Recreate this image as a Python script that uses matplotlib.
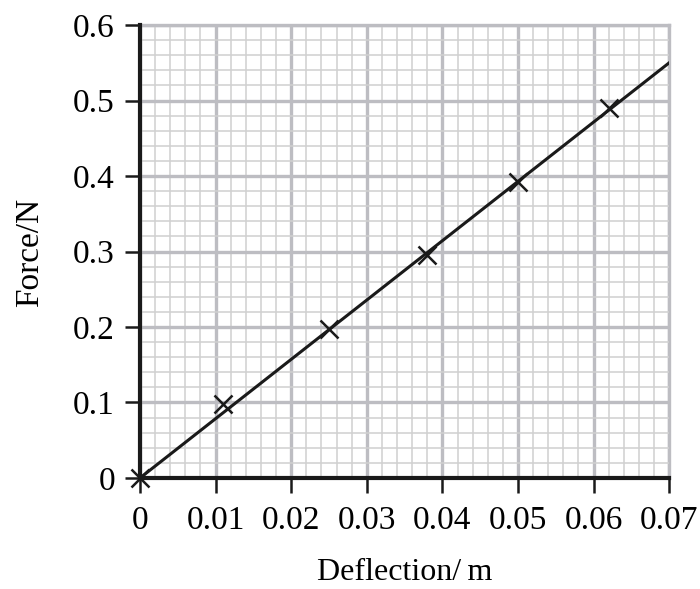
import matplotlib
matplotlib.use('Agg')
import matplotlib.pyplot as plt
import numpy as np
from matplotlib.ticker import MultipleLocator

# measured points
deflection = [0.0, 0.011, 0.025, 0.038, 0.050, 0.062]
force = [0.0, 0.098, 0.198, 0.295, 0.392, 0.490]
# best-fit line end points
line_x = [0.0, 0.07]
line_y = [0.0, 0.55]

x_ticks = [0, 0.01, 0.02, 0.03, 0.04, 0.05, 0.06, 0.07]
x_labels = ['0', '0.01', '0.02', '0.03', '0.04', '0.05', '0.06', '0.07']
y_ticks = [0, 0.1, 0.2, 0.3, 0.4, 0.5, 0.6]
y_labels = ['0', '0.1', '0.2', '0.3', '0.4', '0.5', '0.6']

plt.rcParams['font.family'] = ['Liberation Serif', 'DejaVu Serif']

fig = plt.figure(figsize=(7, 5.89), dpi=100)
ax = fig.add_axes([0.2, 0.1885, 0.756, 0.769])

ax.set_xlim(0, 0.07)
ax.set_ylim(0, 0.6)

# graph paper grid
ax.xaxis.set_minor_locator(MultipleLocator(0.002))
ax.yaxis.set_minor_locator(MultipleLocator(0.02))
ax.grid(which='minor', color='#d0d0d0', linewidth=1.1, zorder=0)
ax.grid(which='major', color='#bdbdc2', linewidth=2.4, zorder=0)
ax.set_axisbelow(True)

ax.spines['top'].set_visible(False)
ax.spines['right'].set_visible(False)
ax.spines['left'].set_linewidth(3)
ax.spines['bottom'].set_linewidth(3)
ax.spines['left'].set_color('#1a1a1a')
ax.spines['bottom'].set_color('#1a1a1a')
# outer edges drawn as gray grid lines
ax.axhline(0.6, color='#bdbdc2', linewidth=2.4, zorder=0.5, clip_on=False)
ax.axvline(0.07, color='#bdbdc2', linewidth=2.4, zorder=0.5, clip_on=False)

ax.plot(line_x, line_y, color='#1a1a1a', linewidth=2.2, zorder=3)
ax.plot(deflection, force, linestyle='none', marker='x', markersize=13,
        markeredgewidth=1.8, color='#1a1a1a', zorder=4, clip_on=False)

ax.set_xticks(x_ticks)
ax.set_xticklabels(x_labels)
ax.set_yticks(y_ticks)
ax.set_yticklabels(y_labels)
ax.tick_params(which='major', direction='out', length=11, width=1.8,
               color='#1a1a1a', labelsize=24)
ax.tick_params(axis='x', pad=9)
ax.tick_params(axis='y', pad=7)
ax.tick_params(which='minor', length=0)

ax.set_xlabel('Deflection/\u2009m', fontsize=23, va='baseline')
ax.xaxis.set_label_coords(0.5, -0.225)
ax.set_ylabel('Force/N', fontsize=24)
ax.yaxis.set_label_coords(-0.18, 0.497)

fig.savefig('out.png', dpi=100)
